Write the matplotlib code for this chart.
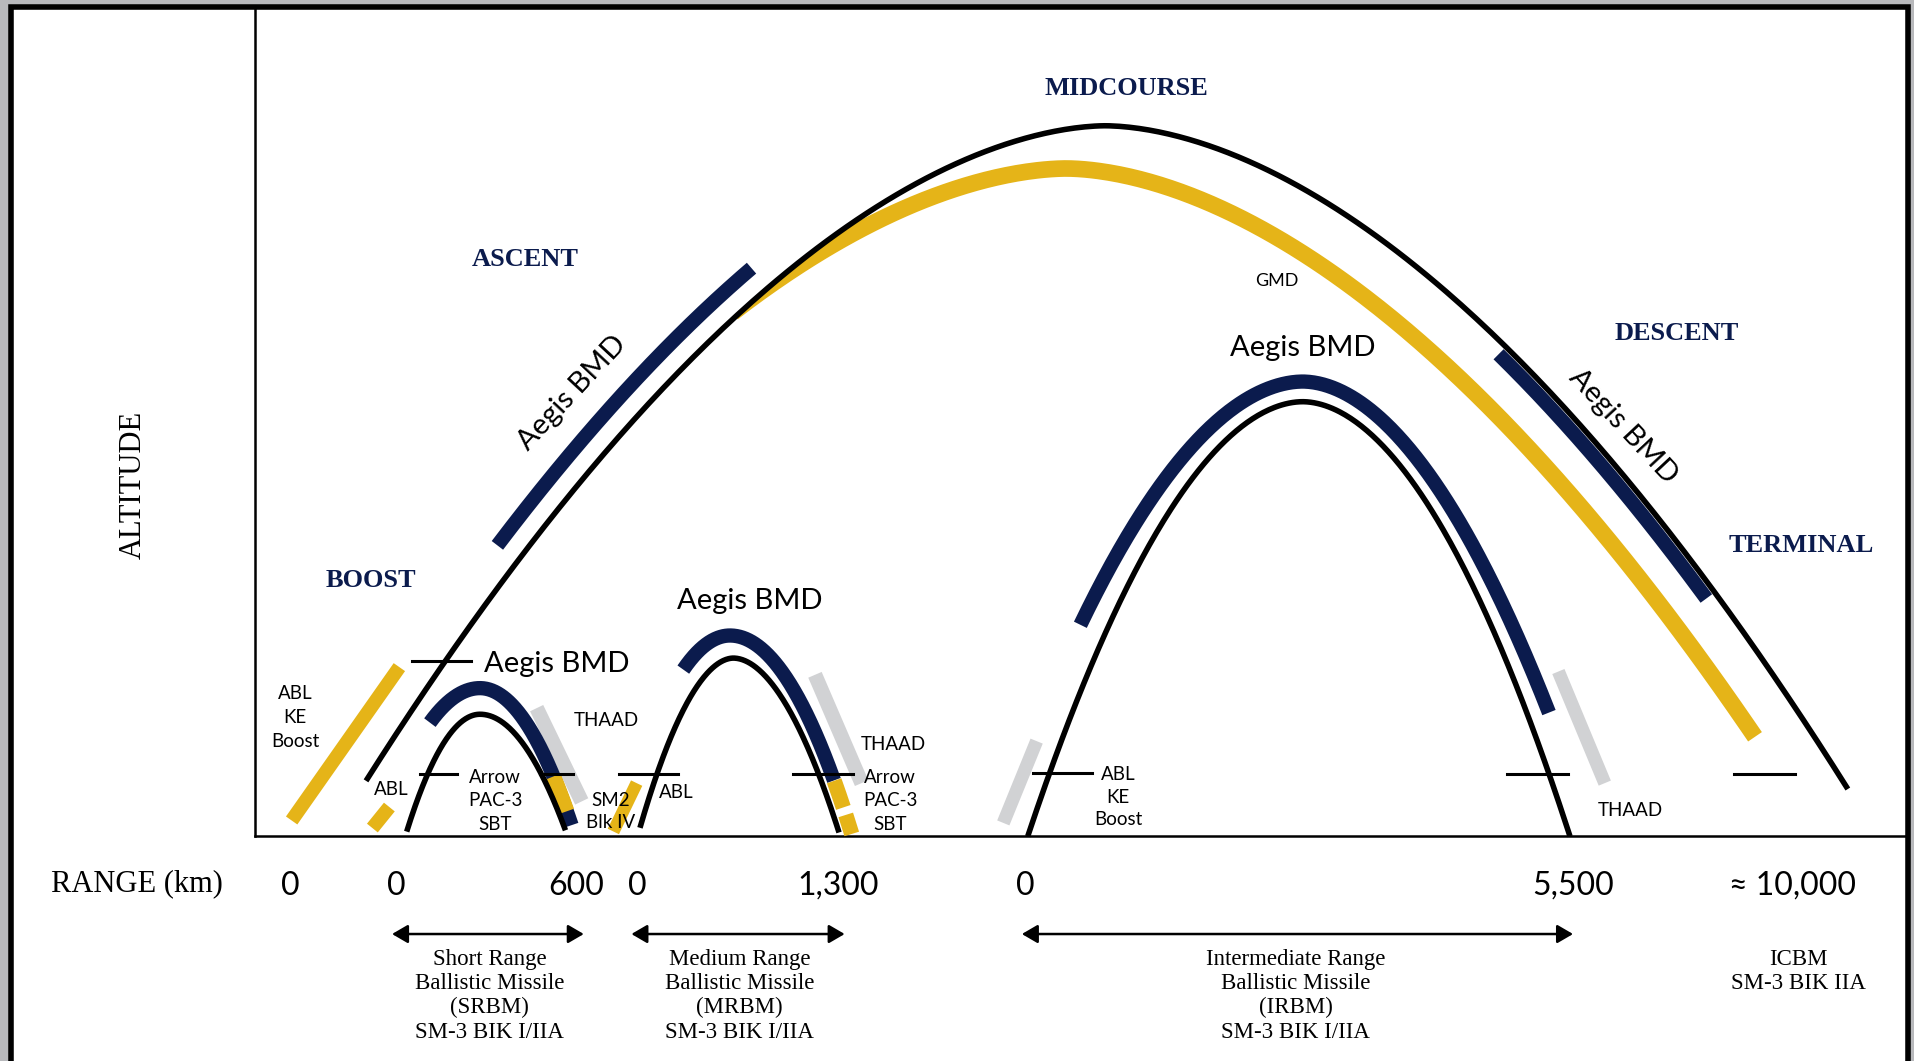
import numpy as np
import matplotlib
matplotlib.use("Agg")
import matplotlib.pyplot as plt
from matplotlib.patches import Rectangle

# fonts
SANS = ["Lato", "DejaVu Sans"]
SERIF = ["Liberation Serif", "DejaVu Serif"]

# colours
NAVY = "#0b1b4d"
GOLD = "#e5b418"
GREY = "#d1d2d4"
FRAME_BG = "#b8b9bc"

# ---- data -------------------------------------------------------------
phases = ["BOOST", "ASCENT", "MIDCOURSE", "DESCENT", "TERMINAL"]
range_ticks = ["0", "0", "600", "0", "1,300", "0", "5,500", "\u2248 10,000"]
missile_classes = [
    ["Short Range", "Ballistic Missile", "(SRBM)", "SM-3 BIK I/IIA"],
    ["Medium Range", "Ballistic Missile", "(MRBM)", "SM-3 BIK I/IIA"],
    ["Intermediate Range", "Ballistic Missile", "(IRBM)", "SM-3 BIK I/IIA"],
    ["ICBM", "SM-3 BIK IIA"],
]
# trajectory shapes: apex x, apex alt, left ground x, right ground x, exponent, ground
icbm = (905, 103, 271.4, 1537, 1.78, 685)
gmd = (873, 138, 212, 1505, 1.78, 708)
srbm = (393, 585, 331.8, 464.8, 2.0, 685)
srbm_aegis = (393, 563.6, 308, 471, 2.0, 685)
mrbm = (600.5, 539, 522, 688, 1.9, 685)
mrbm_aegis = (597.7, 520.5, 505, 698, 2.0, 685)
irbm = (1066.6, 329, 841.5, 1285.5, 1.9, 685)
irbm_aegis = (1066.6, 312.5, 813.6, 1305, 1.9, 685)

PX = 100 / 72 / 1.2213  # sketch units per point


def arch(tr, x):
    xa, ya, xl, xr, p, yb = tr
    t = np.where(x < xa, (xa - x) / (xa - xl), (x - xa) / (xr - xa))
    return ya + (yb - ya) * np.clip(t, 0, None) ** p


def offset(x, y, off):
    dx, dy = np.gradient(x), np.gradient(y)
    L = np.hypot(dx, dy)
    return x + off * dy / L, y - off * dx / L


def band(tr, x0, x1, off=0.0, n=300):
    x = np.linspace(x0, x1, n)
    return offset(x, arch(tr, x), off)


def label(x, yc, s, size, family=SANS, cap=0.72, rot=0, **kw):
    if rot:
        ax.text(x, yc, s, fontsize=size, family=family, ha="center", va="center",
                rotation=rot, rotation_mode="anchor", zorder=6, **kw)
    else:
        ax.text(x, yc + cap * size * PX / 2, s, fontsize=size, family=family,
                ha="center", va="baseline", zorder=6, **kw)


fig = plt.figure(figsize=(19.15, 10.61), dpi=100, facecolor=FRAME_BG)
ax = fig.add_axes([0, 0, 1, 1])
ax.set_xlim(0, 1568)
ax.set_ylim(869, 0)
ax.axis("off")

# outer frame and plot box
ax.add_patch(Rectangle((8.8, 5.7), 1553.7, 920, facecolor="white",
                       edgecolor="black", lw=4, zorder=0))
ax.plot([209, 209], [5.7, 685], color="k", lw=1.8, zorder=1)
ax.plot([209, 1562], [685, 685], color="k", lw=1.8, zorder=1)

# straight interceptor bars
bars = [
    ((238.8, 672), (327, 546.4), GOLD, 10),
    ((304.9, 678.2), (318.8, 661), GOLD, 10),
    ((439.4, 580), (476.3, 656.4), GREY, 10.5),
    ((502.2, 681), (521.3, 641.4), GOLD, 9),
    ((667.3, 552.7), (705.5, 641.4), GREY, 10.5),
    ((821.5, 674), (848.8, 607), GREY, 9.5),
    ((1276, 550), (1314, 641.4), GREY, 9.5),
]
for (x0, y0), (x1, y1), c, w in bars:
    ax.plot([x0, x1], [y0, y1], color=c, lw=w, solid_capstyle="butt", zorder=2)

# Aegis (navy) bands
for seg in [band(icbm, 424, 629, 21), band(icbm, 1233, 1404, -8.5),
            band(srbm_aegis, 352, 468), band(mrbm_aegis, 559.5, 682.9),
            band(irbm_aegis, 884.6, 1268.3)]:
    ax.plot(*seg, color=NAVY, lw=10.3, solid_capstyle="butt", zorder=3.3)

# GMD band; it comes out from under the ICBM line
ax.plot(*band(gmd, 600, 1437), color=GOLD, lw=12, solid_capstyle="butt", zorder=3)
# white mask on the outer side of the ICBM line hides the start of the GMD band
xm = np.linspace(570, 730, 200)
ym = arch(icbm, xm)
mx, my = offset(xm, ym, 15)
ax.fill(np.r_[xm, mx[::-1]], np.r_[ym, my[::-1]], color="white", lw=0, zorder=3.2)

for tr, x0, x1 in [(srbm_aegis, 453.2, 464.1), (mrbm_aegis, 683, 690.5),
                   (mrbm_aegis, 692.5, 697.4)]:
    ax.plot(*band(tr, x0, x1), color=GOLD, lw=11, solid_capstyle="butt", zorder=3.5)

# missile trajectories
for tr, x0, x1 in [(icbm, 299.7, 1513), (srbm, 333, 463), (mrbm, 524, 687),
                   (irbm, 841.5, 1285.5)]:
    ax.plot(*band(tr, x0, x1), color="k", lw=4, solid_capstyle="butt", zorder=4)

# altitude tick marks
ticks = [(541, 337, 386), (633.8, 344, 374), (633.8, 442, 469.4),
         (633.8, 507, 555.4), (633.8, 649.6, 698.2), (633.5, 846, 894.4),
         (633.8, 1233.7, 1283.6), (633.8, 1420, 1469.8)]
for y, x0, x1 in ticks:
    ax.plot([x0, x1], [y, y], color="k", lw=2.2, zorder=5)

# phase labels
for name, (x, y) in zip(phases, [(304, 474), (430, 211), (922, 70.7),
                                 (1373, 271), (1475, 444.6)]):
    label(x, y, name, 19, family=SERIF, cap=0.66, weight="bold", color=NAVY)

# system labels
label(468.6, 322, "Aegis BMD", 21, rot=47)
label(1329, 349.4, "Aegis BMD", 21, rot=-47)
label(455.8, 541.8, "Aegis BMD", 21)
label(614, 489.9, "Aegis BMD", 21)
label(1067, 283, "Aegis BMD", 21)
label(1045.6, 229.3, "GMD", 13)
small = [
    (241.5, 567, "ABL"), (241.5, 587, "KE"), (241.5, 606.5, "Boost"),
    (320.7, 645.5, "ABL"),
    (405.3, 636, "Arrow"), (405.3, 655, "PAC-3"), (405.3, 674, "SBT"),
    (496.7, 589.5, "THAAD"),
    (500, 654.5, "SM2"), (500.3, 672.8, "Blk IV"),
    (554, 648.2, "ABL"),
    (731.4, 608.6, "THAAD"),
    (728.7, 636, "Arrow"), (728.7, 655, "PAC-3"), (728.7, 674, "SBT"),
    (915.7, 633.5, "ABL"), (915.7, 652, "KE"), (915.7, 670.5, "Boost"),
    (1334.6, 662.4, "THAAD"),
]
for x, y, s in small:
    label(x, y, s, 13.5)

# axis titles
ax.text(108.7, 397.5, "ALTITUDE", fontsize=22, family=SERIF, rotation=90,
        ha="center", va="center", zorder=6)
label(112, 722, "RANGE (km)", 22, family=SERIF, cap=0.66)

# range numbers
for s, x in zip(range_ticks, [237.6, 324.6, 472, 522, 686.5, 839.6, 1288, 1468]):
    label(x, 723.5, s, 23)

# class arrows and names
for x0, x1 in [(321, 478), (517, 691.6), (836.7, 1288)]:
    ax.annotate("", xy=(x1, 765), xytext=(x0, 765),
                arrowprops=dict(arrowstyle="<|-|>,head_length=0.6,head_width=0.35",
                                mutation_scale=16, lw=1.8, color="k",
                                shrinkA=0, shrinkB=0), zorder=5)
for lines, x in zip(missile_classes, [401, 605.3, 1061, 1472.2]):
    for i, s in enumerate(lines):
        ax.text(x, 790 + 20 * i, s, fontsize=16.5, family=SERIF,
                ha="center", va="baseline", zorder=6)

fig.savefig("out.png", dpi=100, facecolor=FRAME_BG)
